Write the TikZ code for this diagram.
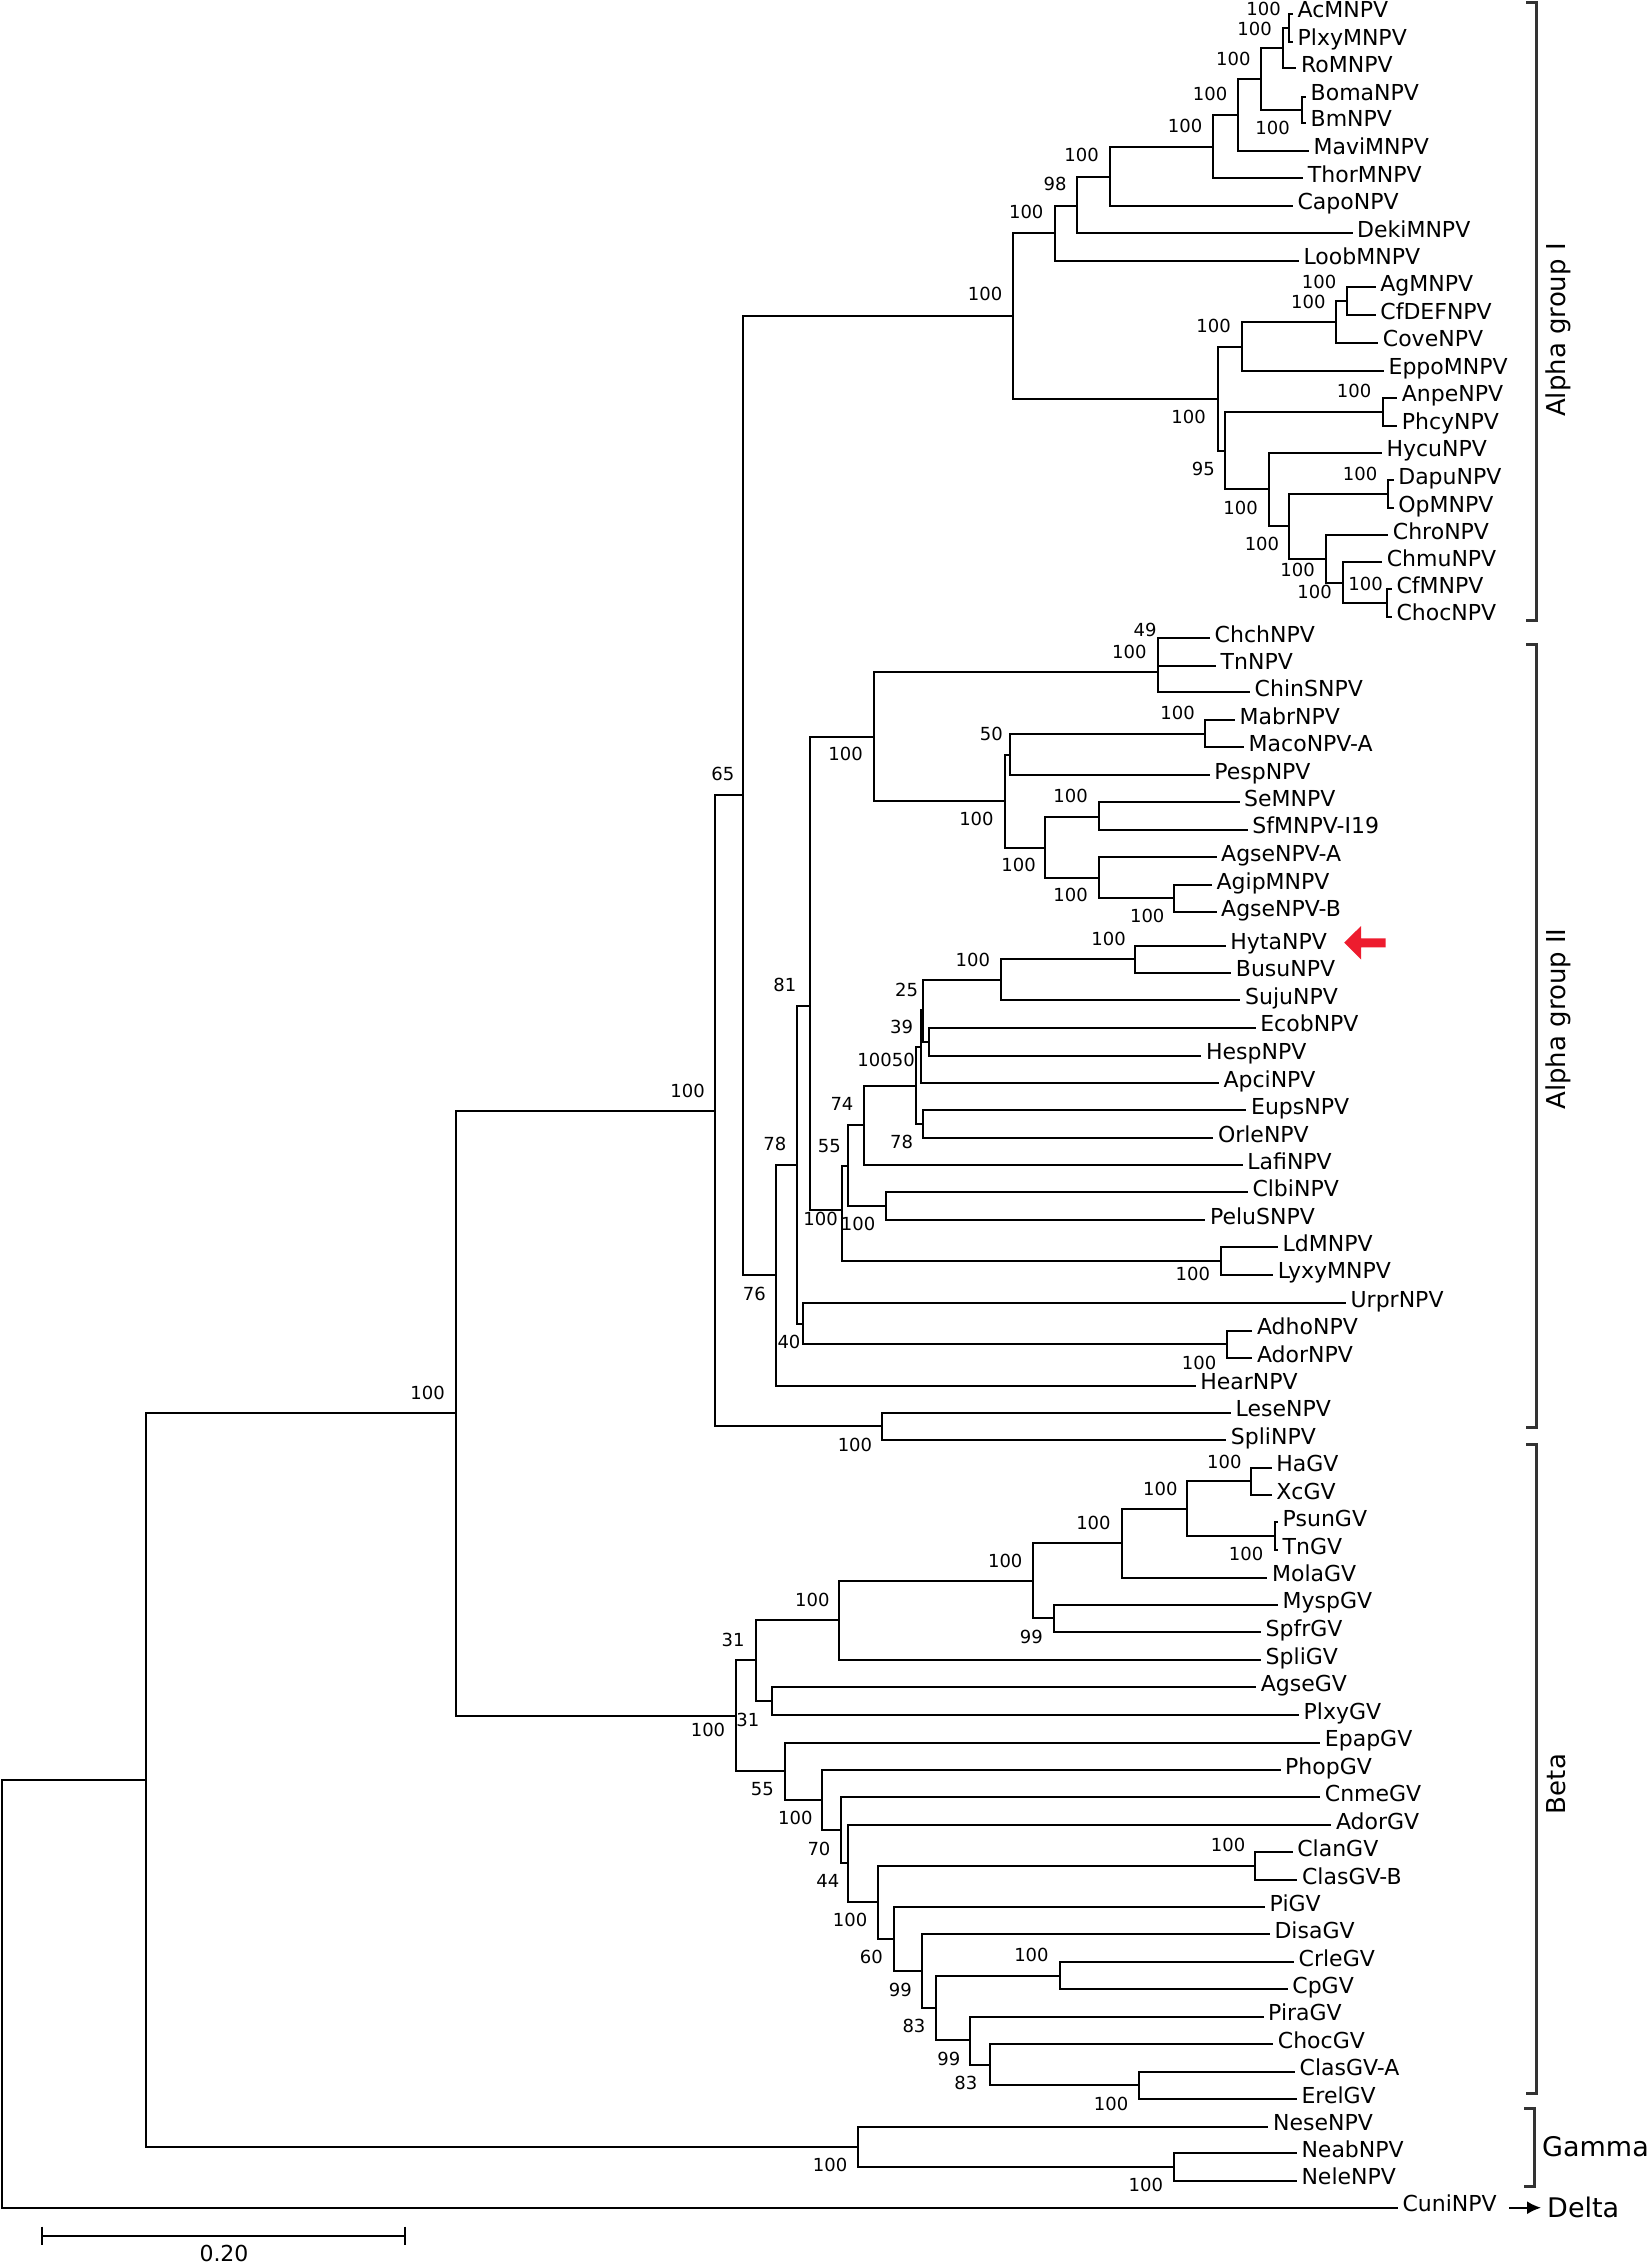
\documentclass[tikz,border=0pt]{standalone}
\usepackage{fontspec}
\setmainfont{DejaVu Sans}
\usetikzlibrary{arrows.meta}
\definecolor{bracketgrey}{RGB}{51,51,51}
\definecolor{markred}{RGB}{237,28,46}

\begin{document}
\begin{tikzpicture}[x=1pt, y=-1pt,
  twig/.style={line width=2pt},
  leaf/.style={anchor=west, inner xsep=4.5pt, inner ysep=0pt, text height=0.8em, text depth=0pt, font=\fontsize{22}{26}\selectfont},
  boot/.style={anchor=east, inner sep=0pt, text height=0.73em, text depth=0pt, font=\fontsize{18}{20}\selectfont},
  grp/.style={inner sep=0pt, font=\fontsize{26}{30}\selectfont},
  brak/.style={bracketgrey, line width=3pt}]
  \useasboundingbox (0,0) rectangle (1651,2266);

  % internal nodes: name/x/y/parent
  \def\innerlist{a1/1289.3/27.9/a2, a2/1282.9/48.3/a4, a3/1301.8/109.7/a4,
    a4/1261.4/79/a5, a5/1237.5/115/a6, a6/1213.2/146.7/a7, a7/1109.6/177/a8,
    a8/1076.8/205.7/a9, a9/1055.4/233/a22, a10/1347.1/301/a11, a11/1336.4/322/a12,
    a12/1241.8/346.7/a21, a13/1382.9/411.7/a20, a14/1388.2/494/a18,
    a15/1387.1/603/a16, a16/1342.9/583/a17, a17/1325.7/559/a18,
    a18/1289.3/526/a19, a19/1268.6/489.3/a20, a20/1225/450.7/a21,
    a21/1217.5/398.7/a22, a22/1013.2/315.7/c1,
    b1/1158.3/652/b2, b2/1157.5/672.3/b10, b3/1205/734/b4, b4/1009.9/755/b9,
    b5/1098.5/816.7/b8, b6/1174.3/897.7/b7, b7/1098.5/877.7/b8,
    b8/1045.3/847.7/b9, b9/1005.3/801.3/b10, b10/873.5/736.7/b23,
    b11/1135.3/959.2/b12, b12/1000.7/980/b14, b13/929/1042/b14,
    b14/922.7/1010/b15, b15/920.7/1046.7/b17, b16/923.3/1124.2/b17,
    b17/916/1085.7/b18, b18/864/1125/b20, b19/885.8/1205.6/b20,
    b20/847.9/1165.8/b22, b21/1221.3/1261/b22, b22/842.1/1209.7/b23,
    b23/810.2/1006/b26, b24/1227.1/1344.3/b25, b25/803/1324/b26,
    b26/796.8/1164.8/b27, b27/776.1/1274.5/c1, b28/882/1426.3/c2,
    c1/743.4/795/c2, c2/714.7/1111.2/e1,
    d1/1251.4/1481.3/d3, d2/1274.6/1536.2/d3, d3/1187.4/1509/d4,
    d4/1121.5/1543.3/d6, d5/1053.6/1618.3/d6, d6/1033.2/1581/d7,
    d7/839.4/1620.3/d9, d8/771.5/1701.2/d9, d9/755.5/1660/d23,
    d10/1059.9/1975.7/d14, d11/1138.9/2085.3/d12, d12/989.6/2064.5/d13,
    d13/970.2/2040.3/d14, d14/936.3/2008.3/d15, d15/921.8/1970.8/d16,
    d16/893.6/1938.8/d18, d17/1255.3/1866/d18, d18/878.1/1902.3/d19,
    d19/848.1/1863.3/d20, d20/840.8/1830.3/d21, d21/822.4/1799.7/d22,
    d22/784.6/1771/d23, d23/736.1/1715.5/e1,
    g1/1173.7/2167/g2, g2/857.9/2146.7/e2,
    e1/456.4/1413.3/e2, e2/146.4/1780.3/root}
  \coordinate (root) at (1.5,1994);
  \foreach \n/\x/\y/\p in \innerlist \coordinate (\n) at (\x,\y);
  \foreach \n/\x/\y/\p in \innerlist \draw[twig] (\p) |- (\n);

  % leaves: name/tip x/y/parent
  \foreach \n/\x/\y/\p in {AcMNPV/1292.9/14/a1, PlxyMNPV/1292.9/41.7/a1,
    RoMNPV/1296.4/68.3/a2, BomaNPV/1306/96.7/a3, BmNPV/1306/122.7/a3,
    MaviMNPV/1308.9/151/a5, ThorMNPV/1303.2/178.3/a6, CapoNPV/1292.9/205.7/a7,
    DekiMNPV/1352.5/233.3/a8, LoobMNPV/1298.9/261/a9, AgMNPV/1375.7/287.3/a10,
    CfDEFNPV/1375.7/315/a10, CoveNPV/1378.2/342.7/a11, EppoMNPV/1383.9/370.7/a12,
    AnpeNPV/1397.1/397.7/a13, PhcyNPV/1397.1/425.7/a13, HycuNPV/1381.8/452.7/a19,
    DapuNPV/1393.6/480.3/a14, OpMNPV/1393.6/508.3/a14, ChroNPV/1388.2/535/a17,
    ChmuNPV/1382.1/562.3/a16, CfMNPV/1391.8/589.3/a15, ChocNPV/1391.8/616.7/a15,
    ChchNPV/1210/638.3/b1, TnNPV/1216/665.7/b1, ChinSNPV/1250/692.3/b2,
    MabrNPV/1234.9/720/b3, MacoNPV-A/1244/747.3/b3, PespNPV/1209.6/775/b4,
    SeMNPV/1239.5/802.3/b5, SfMNPV-I19/1247.7/829.7/b5, AgseNPV-A/1216.5/857.3/b7,
    AgipMNPV/1211.9/885/b6, AgseNPV-B/1216.5/912/b6, HytaNPV/1225.7/945.7/b11,
    BusuNPV/1231.2/972.7/b11, SujuNPV/1240.4/1000.3/b12, EcobNPV/1255.6/1027.7/b13,
    HespNPV/1201.4/1055.7/b13, ApciNPV/1218.8/1083.3/b15, EupsNPV/1246.4/1110.3/b16,
    OrleNPV/1213.3/1138/b16, LafiNPV/1242.7/1165.3/b18, ClbiNPV/1247.8/1192.3/b19,
    PeluSNPV/1205.3/1220/b19, LdMNPV/1278/1247.3/b21, LyxyMNPV/1273.2/1274.7/b21,
    UrprNPV/1345.9/1303/b25, AdhoNPV/1252.3/1330.7/b24, AdorNPV/1252.3/1358/b24,
    HearNPV/1195.6/1385.7/b27, LeseNPV/1231/1412.7/b28, SpliNPV/1226.2/1440/b28,
    HaGV/1271.7/1467.7/d1, XcGV/1271.7/1495/d1, PsunGV/1278/1522.3/d2,
    TnGV/1278/1550/d2, MolaGV/1267.4/1577.7/d4, MyspGV/1278/1604.7/d5,
    SpfrGV/1261/1632/d5, SpliGV/1261/1660/d7, AgseGV/1256.2/1687.3/d8,
    PlxyGV/1298.9/1715/d8, EpapGV/1320.2/1742.7/d22, PhopGV/1280.5/1770/d21,
    CnmeGV/1320.2/1797.3/d20, AdorGV/1331.3/1825/d19, ClanGV/1292.6/1852.3/d17,
    ClasGV-B/1297.4/1880/d17, PiGV/1265/1907/d16, DisaGV/1269.8/1934.3/d15,
    CrleGV/1294/1962/d10, CpGV/1287.7/1989.3/d10, PiraGV/1263.5/2016.7/d13,
    ChocGV/1273.2/2044/d12, ClasGV-A/1295/2071.7/d11, ErelGV/1296.8/2099/d11,
    NeseNPV/1268.4/2126.7/g2, NeabNPV/1296.8/2153.3/g1, NeleNPV/1296.8/2180.7/g1,
    CuniNPV/1397.9/2207.7/root} {
    \node[leaf] (\n) at (\x,\y) {\n};
    \draw[twig] (\p) |- (\n.west);
  }

  % bootstrap values: node/value/right x/y
  \foreach \n/\v/\x/\y in {a1/100/1281/11.7, a2/100/1272/31.7, a3/100/1290/130.7,
    a4/100/1250.7/61.7, a5/100/1227.5/97.3, a6/100/1202.5/129.3, a7/100/1098.9/158.3,
    a8/98/1066.8/186.7, a9/100/1043.6/215, a10/100/1336.4/285, a11/100/1325.7/305,
    a12/100/1231/329.3, a13/100/1371.4/394, a14/100/1377.5/476.7, a15/100/1382.9/586.7,
    a16/100/1332/595, a17/100/1315/573.3, a18/100/1279.3/547.3, a19/100/1257.9/510.7,
    a20/95/1215/471.7, a21/100/1206/420, a22/100/1002.5/297,
    c1/65/734.4/777.3, c2/100/705/1093.4, e1/100/445/1396,
    b1/49/1156.7/633.3, b2/100/1146.7/655, b3/100/1195/716, b4/50/1003/736.7,
    b5/100/1088/799, b6/100/1164.6/919, b7/100/1088/898.3, b8/100/1036/868.3,
    b9/100/993.8/821.7, b10/100/863/756.7, b11/100/1126/941.7, b12/100/990.2/962.7,
    b13/39/913.3/1030, b14/25/918.3/993.3, b15/50/915/1063.3, b16/78/913.3/1145,
    b17/100/892/1063, b18/74/853.6/1107, b19/100/875.5/1227, b20/55/841/1148.5,
    b21/100/1210.2/1276.7, b22/100/838/1222, b23/81/796.4/988.3, b24/100/1216.5/1365.7,
    b25/40/800.6/1345, b26/78/786.5/1147, b27/76/766/1296.5, b28/100/872.3/1448.3,
    d1/100/1241.7/1465, d2/100/1263.5/1557.3, d3/100/1177.7/1491.7, d4/100/1110.8/1526,
    d5/99/1043/1640, d6/100/1022.6/1564, d7/100/829.7/1603.3, d8/31/759.4/1722.7,
    d9/31/744.8/1643.3, d10/100/1048.8/1958.3, d11/100/1128.4/2106.7, d12/83/977.5/2085.7,
    d13/99/960.5/2061.7, d14/83/925.6/2029.3, d15/99/912/1993.3, d16/60/883/1960,
    d17/100/1245.5/1848.3, d18/100/867.5/1923.3, d19/44/839.4/1884, d20/70/830.6/1851.7,
    d21/100/812.7/1820.7, d22/55/773.9/1791.7, d23/100/725.4/1733.3,
    g1/100/1163.2/2188.3, g2/100/847.4/2167.7}
    \node[boot] (bs-\n) at (\x,\y) {\v};

  % group brackets
  \draw[brak] (1526,3) -- (1536,3) -- (1536,620) -- (1526,620);
  \draw[brak] (1526,644) -- (1536,644) -- (1536,1427.5) -- (1526,1427.5);
  \draw[brak] (1526,1444) -- (1536,1444) -- (1536,2093.3) -- (1526,2093.3);
  \draw[brak] (1524,2108.3) -- (1534.7,2108.3) -- (1534.7,2186) -- (1524,2186);
  \node[grp, rotate=90, anchor=base] (alphaI) at (1565,330) {Alpha group I};
  \node[grp, rotate=90, anchor=base] (alphaII) at (1565,1019) {Alpha group II};
  \node[grp, rotate=90, anchor=base] (beta) at (1565,1784) {Beta};
  \node[grp, font=\fontsize{27}{30}\selectfont, anchor=west] (gamma) at (1542,2146.7) {Gamma};
  \node[grp, font=\fontsize{27}{30}\selectfont, anchor=west] (delta) at (1547,2207.7) {Delta};
  \draw[line width=2pt, -{Latex[length=14pt,width=13pt]}] ([xshift=8pt]CuniNPV.east) -- ([xshift=-6pt]delta.west);

  % marker for HytaNPV
  \fill[markred] (1385.5,938.3) -- (1361,938.3) -- (1361,926) -- (1344.2,942.7)
    -- (1361,959.5) -- (1361,947.3) -- (1385.5,947.3) -- cycle;

  % scale bar
  \coordinate (sbl) at (42,2235.7);
  \coordinate (sbr) at (405.3,2235.7);
  \draw[twig] (sbl) -- (sbr);
  \draw[twig] ([yshift=9pt]sbl) -- ([yshift=-9pt]sbl);
  \draw[twig] ([yshift=9pt]sbr) -- ([yshift=-9pt]sbr);
  \node[boot, anchor=center, font=\fontsize{22}{24}\selectfont] (sblab) at (224,2258) {0.20};
\end{tikzpicture}
\end{document}
